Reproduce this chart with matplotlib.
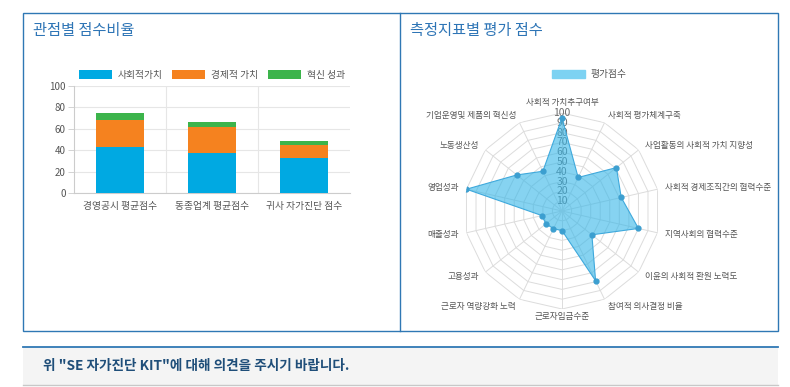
import numpy as np
import matplotlib
matplotlib.use('Agg')
import matplotlib.pyplot as plt
from matplotlib.patches import Rectangle, Patch
from matplotlib.lines import Line2D

plt.rcParams['font.family'] = ['Noto Sans CJK KR', 'DejaVu Sans']

# stacked bar data
groups = ['경영공시 평균점수', '동종업계 평균점수', '귀사 자가진단 점수']
series = ['사회적가치', '경제적 가치', '혁신 성과']
social = [42.6, 37.3, 32.8]
economic = [25.4, 24.1, 11.6]
innovation = [7.2, 5.1, 4.6]
bar_colors = ['#00a9e2', '#f5821f', '#3cb44b']

# radar data
indicators = ['사회적 가치추구여부', '사회적 평가체계구축', '사업활동의 사회적 가치 지향성',
              '사회적 경제조직간의 협력수준', '지역사회의 협력수준', '이윤의 사회적 환원 노력도',
              '참여적 의사결정 비율', '근로자임금수준', '근로자 역량강화 노력', '고용성과',
              '매출성과', '영업성과', '노동생산성', '기업운영및 제품의 혁신성']
scores = [95, 38, 71, 62, 80, 39, 79, 20, 20, 21, 21, 100, 59, 45]
rticks = [10, 20, 30, 40, 50, 60, 70, 80, 90, 100]

W, H = 790, 387
fig = plt.figure(figsize=(W / 100, H / 100), dpi=100)
fig.patch.set_facecolor('white')

def fx(px):
    return px / W

def fy(py):
    return 1 - py / H

border = '#2f78b4'
# panel frames
fig.add_artist(Rectangle((fx(23), fy(331)), fx(778) - fx(23), fy(13) - fy(331),
                         transform=fig.transFigure, fill=False, ec=border, lw=1.0))
fig.add_artist(Line2D([fx(400), fx(400)], [fy(331), fy(13)], transform=fig.transFigure,
                      color=border, lw=1.0))
title_c = '#2e75b6'
fig.text(fx(33), fy(30), '관점별 점수비율', color=title_c, fontsize=11, va='center')
fig.text(fx(410), fy(30), '측정지표별 평가 점수', color=title_c, fontsize=11, va='center')

# bottom note box
fig.add_artist(Rectangle((fx(23), fy(385)), fx(778) - fx(23), fy(347) - fy(385),
                         transform=fig.transFigure, fc='#f4f4f4', ec='none'))
fig.add_artist(Line2D([fx(23), fx(778)], [fy(347), fy(347)], transform=fig.transFigure,
                      color=border, lw=1.3))
fig.add_artist(Line2D([fx(23), fx(778)], [fy(385), fy(385)], transform=fig.transFigure,
                      color='#c8c8c8', lw=1.0))
fig.text(fx(43), fy(366), '위 "SE 자가진단 KIT"에 대해 의견을 주시기 바랍니다.',
         color='#1f4e79', fontsize=9.8, fontweight='bold', va='center')

# ---- stacked bars
ax = fig.add_axes([fx(74), fy(193), fx(350) - fx(74), fy(86) - fy(193)])
x = np.arange(len(groups))
b1 = ax.bar(x, social, width=0.52, color=bar_colors[0], zorder=3)
b2 = ax.bar(x, economic, width=0.52, bottom=social, color=bar_colors[1], zorder=3)
bot = np.array(social) + np.array(economic)
b3 = ax.bar(x, innovation, width=0.52, bottom=bot, color=bar_colors[2], zorder=3)
ax.set_xlim(-0.5, 2.5)
ax.set_ylim(0, 100)
ax.set_yticks([0, 20, 40, 60, 80, 100])
ax.set_xticks(x)
ax.set_xticklabels(groups)
ax.tick_params(axis='x', length=0, pad=6, labelsize=7, labelcolor='#555555')
ax.tick_params(axis='y', length=4, width=0.6, color='#cccccc', labelsize=7, labelcolor='#555555', pad=2)
ax.grid(axis='y', color='#e6e6e6', lw=0.8, zorder=0)
for xv in [0.5, 1.5]:
    ax.axvline(xv, color='#e6e6e6', lw=0.8, zorder=0)
for s in ['top', 'right']:
    ax.spines[s].set_visible(False)
ax.spines['left'].set_color('#cccccc')
ax.spines['bottom'].set_color('#cccccc')
ax.legend([b1, b2, b3], series, loc='lower center', bbox_to_anchor=(0.5, 1.0), ncol=3,
          frameon=False, fontsize=7, handlelength=3.4, handleheight=1.0,
          columnspacing=1.0, handletextpad=0.6, labelcolor='#555555', borderaxespad=0.2)

# ---- radar
cx, cy, R = 562, 211, 98
pax = fig.add_axes([fx(cx - R), fy(cy + R), 2 * R / W, 2 * R / H], projection='polar')
pax.set_theta_offset(np.pi / 2)
pax.set_theta_direction(-1)
pax.set_ylim(0, 100)
pax.grid(False)
pax.spines['polar'].set_visible(False)
pax.set_xticks([])
pax.set_yticks([])
pax.patch.set_alpha(0)

n = len(indicators)
ang = np.arange(n) * 2 * np.pi / n
ring_ang = np.append(ang, ang[0])
for r in rticks:
    pax.plot(ring_ang, [r] * (n + 1), color='#dcdcdc', lw=0.7, zorder=1)
for a in ang:
    pax.plot([a, a], [0, 100], color='#dcdcdc', lw=0.7, zorder=1)
for r in rticks:
    pax.text(0, r, str(r), ha='center', va='center', fontsize=7.5, color='#6a6a6a', zorder=1)

vals = np.append(scores, scores[0])
pax.fill(ring_ang, vals, color='#35b6e8', alpha=0.6, zorder=2, lw=0)
pax.plot(ring_ang, vals, color='#3fa9dc', lw=0.8, zorder=3)
pax.plot(ang, scores, 'o', color='#3c9fd0', ms=3.5, zorder=4)

for a, lab in zip(ang, indicators):
    s = np.sin(a)
    c = np.cos(a)
    if abs(s) < 0.01:
        ha = 'center'
        va = 'bottom' if c > 0 else 'top'
        rr = 106 if c > 0 else 103
    else:
        ha = 'left' if s > 0 else 'right'
        va = 'center'
        rr = 108
    pax.text(a, rr, lab, ha=ha, va=va, fontsize=6.2, color='#555555', clip_on=False)

pax.legend([Patch(color='#7dd2f2')], ['평가점수'], loc='lower center',
           bbox_to_anchor=(fx(589), fy(88)), bbox_transform=fig.transFigure,
           frameon=False, fontsize=7, handlelength=3.4, handleheight=1.0,
           handletextpad=0.6, labelcolor='#555555')

fig.savefig('out.png', dpi=100)
